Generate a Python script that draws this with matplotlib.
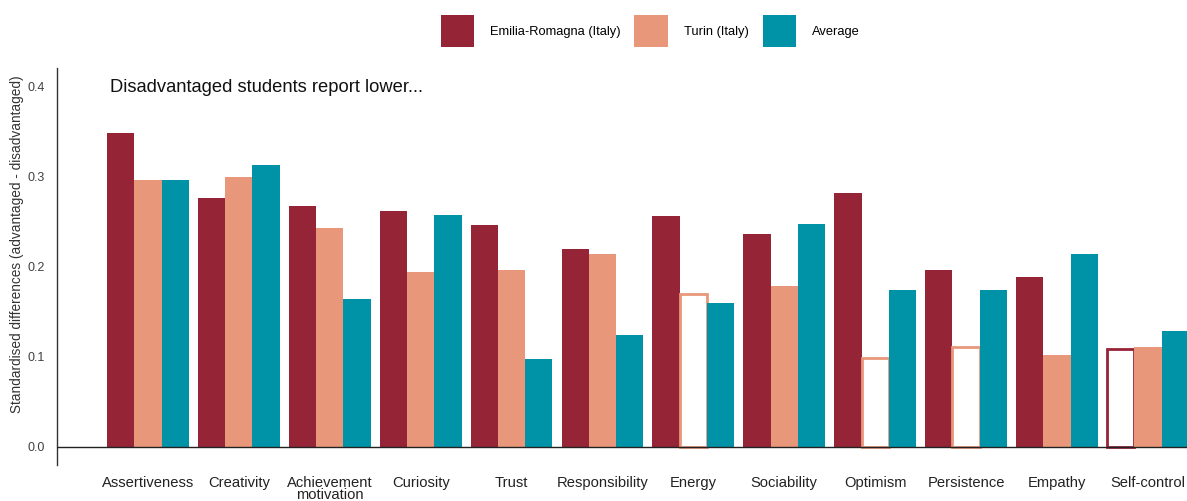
import numpy as np
import matplotlib
matplotlib.use("Agg")
import matplotlib.pyplot as plt
from matplotlib.patches import Patch

plt.rcParams['font.family'] = ['Liberation Sans', 'DejaVu Sans']

categories = ['Assertiveness', 'Creativity', 'Achievement\nmotivation', 'Curiosity', 'Trust',
              'Responsibility', 'Energy', 'Sociability', 'Optimism', 'Persistence',
              'Empathy', 'Self-control']

emilia = [0.348, 0.276, 0.267, 0.261, 0.246, 0.219, 0.256, 0.236, 0.282, 0.196, 0.188, 0.109]
turin = [0.296, 0.299, 0.243, 0.194, 0.196, 0.214, 0.170, 0.178, 0.099, 0.111, 0.102, 0.111]
average = [0.296, 0.312, 0.164, 0.257, 0.098, 0.124, 0.160, 0.247, 0.174, 0.174, 0.214, 0.129]

# non-significant differences are drawn as hollow bars
emilia_hollow = [False] * 11 + [True]
turin_hollow = [False, False, False, False, False, False, True, False, True, True, False, False]
average_hollow = [False] * 12

series_names = ['Emilia-Romagna (Italy)', 'Turin (Italy)', 'Average']
colors = ['#962437', '#E8977A', '#0093A8']

fig = plt.figure(figsize=(11.87, 5.01), dpi=100)
ax = fig.add_axes([57 / 1187, 36 / 501, 1 - 57 / 1187, (465 - 68) / 501])

x = np.arange(len(categories))
w = 0.30
for k, (vals, hollow, col) in enumerate(zip([emilia, turin, average],
                                             [emilia_hollow, turin_hollow, average_hollow],
                                             colors)):
    pos = x + (k - 1) * w
    for p, v, h in zip(pos, vals, hollow):
        if h:
            ax.bar(p, v, w, facecolor='white', edgecolor=col, linewidth=2, zorder=2)
        else:
            ax.bar(p, v, w, color=col, linewidth=0, zorder=2)

ax.axhline(0, color='#222222', linewidth=1, zorder=3)
ax.set_xlim(-1.0, 11.43)
ax.set_ylim(-0.02, 0.42)
ax.set_yticks([0.0, 0.1, 0.2, 0.3, 0.4])
ax.set_yticklabels(['0.0', '0.1', '0.2', '0.3', '0.4'], fontsize=9, color='#404040')
ax.set_xticks(x)
ax.set_xticklabels(categories, fontsize=10.6, color='#222222', va='top', linespacing=0.85)
ax.tick_params(axis='both', length=0)
ax.tick_params(axis='x', pad=8)
ax.tick_params(axis='y', pad=9)
for s in ['top', 'right', 'bottom']:
    ax.spines[s].set_visible(False)
ax.spines['left'].set_color('#333333')
ax.spines['left'].set_linewidth(1)

ax.set_ylabel('Standardised differences (advantaged - disadvantaged)', fontsize=9.8,
              color='#333333')
ax.yaxis.set_label_coords(-0.029, 0.555)

fig.text(110 / 1187, 1 - 87 / 501, 'Disadvantaged students report lower...', fontsize=13.2,
         color='#111111', va='center', ha='left')

handles = [Patch(facecolor=c, edgecolor='none') for c in colors]
fig.legend(handles, series_names, loc='center', bbox_to_anchor=(650 / 1187, 1 - 31 / 501),
           ncol=3, frameon=False, fontsize=9.3, handlelength=2.6, handleheight=3.55,
           handletextpad=1.2, columnspacing=1.1)

fig.savefig('out.png', dpi=100)
